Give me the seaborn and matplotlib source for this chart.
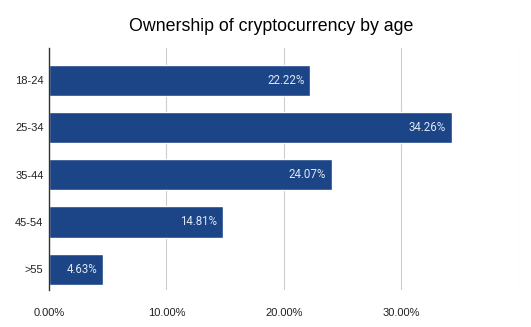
import matplotlib
matplotlib.use("Agg")
import matplotlib.pyplot as plt
import seaborn as sns
import pandas as pd

ages = ["18-24", "25-34", "35-44", "45-54", ">55"]
shares = [22.22, 34.26, 24.07, 14.81, 4.63]
xticks = [0, 10, 20, 30, 40]
xtick_labels = ["0.00%", "10.00%", "20.00%", "30.00%", ""]

sns.set_theme(style="white")
plt.rcParams["font.family"] = ["Liberation Sans", "DejaVu Sans"]

df = pd.DataFrame({"age": ages, "share": shares})

fig = plt.figure(figsize=(5.31, 3.27), dpi=100)
ax = fig.add_axes([0.0923, 0.113, 0.885, 0.74])

sns.barplot(data=df, y="age", x="share", orient="h", color="#1c4587",
            saturation=1, width=0.66, ax=ax)

ax.set_xlim(0, 40)
ax.set_ylim(4.44, -0.68)
ax.set_xticks(xticks)
ax.set_xticklabels(xtick_labels, fontsize=8, color="#222222")
ax.tick_params(axis="y", labelsize=8, labelcolor="#222222", length=0, pad=4)
ax.tick_params(axis="x", length=0, pad=13)
ax.set_xlabel("")
ax.set_ylabel("")
ax.grid(axis="x", color="#cccccc", linewidth=0.8)
ax.set_axisbelow(True)
for s in ["top", "right", "bottom"]:
    ax.spines[s].set_visible(False)
ax.spines["left"].set_color("#333333")
ax.spines["left"].set_linewidth(1)

labels = [f"{v:.2f}%" for v in shares]
annots = ax.bar_label(ax.containers[0], labels=labels, padding=-4, color="#dfe6f3",
                      fontsize=8.3, family=["Roboto", "DejaVu Sans"])
for t in annots:
    t.set_ha("right")

fig.text(0.51, 0.92, "Ownership of cryptocurrency by age", ha="center", va="center",
         fontsize=12.8, color="#000000")

fig.savefig("out.png", dpi=100)
